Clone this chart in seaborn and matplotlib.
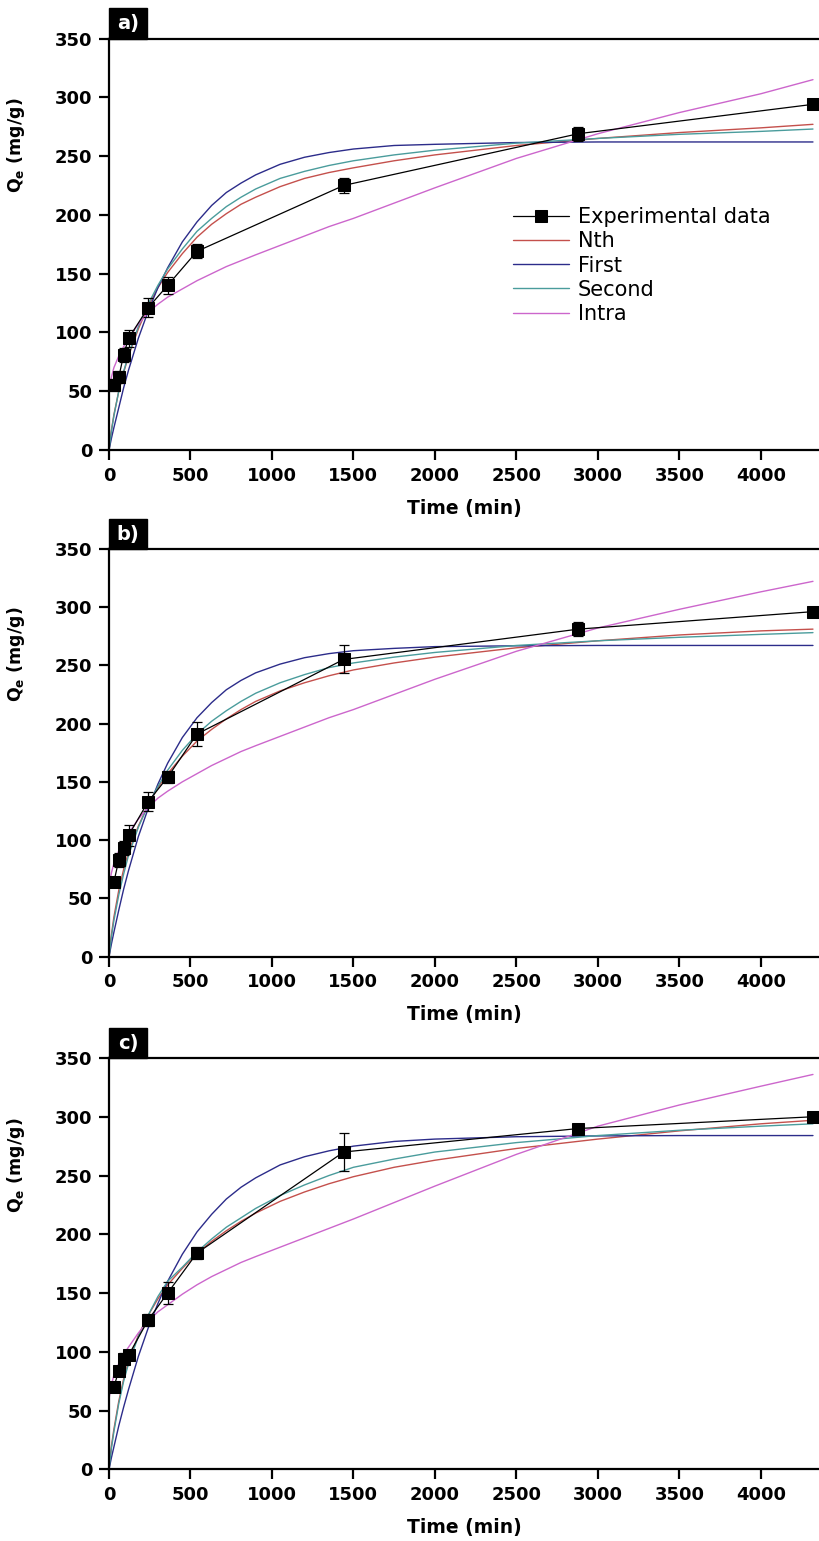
import numpy as np
import pandas as pd
import matplotlib
matplotlib.use("Agg")
import matplotlib.pyplot as plt
import seaborn as sns
from matplotlib.patches import Rectangle

# ---------------- data ----------------
time_exp = [30, 60, 90, 120, 240, 360, 540, 1440, 2880, 4320]
qe_a = [55, 62, 81, 95, 121, 140, 169, 225, 269, 294]
err_a = [5, 5, 6, 7, 8, 7, 6, 6, 6, 3]
qe_b = [64, 83, 93, 104, 133, 154, 191, 255, 281, 296]
err_b = [4, 6, 6, 9, 8, 5, 10, 12, 6, 2]
qe_c = [70, 84, 94, 97, 127, 150, 184, 270, 290, 300]
err_c = [3, 4, 5, 4, 5, 9, 5, 16, 2, 2]

time_fit = [0, 15, 30, 60, 90, 120, 180, 240, 300, 360, 450, 540, 630, 720, 810,
            900, 1050, 1200, 1350, 1500, 1750, 2000, 2500, 3000, 3500, 4000, 4320]

nth_a = [0, 17, 30, 50, 66, 80, 103, 122, 138, 151, 167, 181, 192, 201, 209,
         215, 224, 231, 236, 240, 246, 251, 259, 265, 270, 274, 277]
first_a = [0, 10, 19, 36, 53, 68, 95, 118, 138, 155, 177, 194, 208, 219, 227,
           234, 243, 249, 253, 256, 259, 260, 261.5, 262, 262, 262, 262]
second_a = [0, 16, 29, 50, 67, 81, 105, 124, 140, 154, 171, 186, 197, 207, 215,
            222, 231, 237, 242, 246, 251, 255, 261, 265, 268.5, 271, 273]
intra_a = [50, 62, 70, 80, 88, 95, 107, 117, 124, 130, 137, 144, 150, 156, 161,
           166, 174, 182, 190, 197, 210, 223, 248, 269, 287, 303, 315]

nth_b = [0, 19, 34, 57, 75, 90, 112, 130, 145, 157, 172, 185, 195, 204, 212,
         219, 228, 235, 241, 246, 252, 257, 265, 271, 276, 279.5, 281]
first_b = [0, 11, 21, 40, 58, 74, 103, 127, 148, 166, 188, 205, 218, 229, 237,
           243.5, 251, 256.5, 260, 262.5, 264.5, 266, 266.7, 267, 267, 267, 267]
second_b = [0, 17, 31, 53, 71, 87, 111, 130, 146, 160, 177, 191, 202, 211, 219,
            226, 235, 242, 248, 252, 257, 261, 267, 271, 274, 276.5, 278]
intra_b = [60, 72, 80, 91, 99, 106, 118, 128, 136, 142, 150, 157, 164, 170, 176,
           181, 189, 197, 205, 212, 225, 238, 262, 282, 298, 313, 322]

nth_c = [0, 20, 34, 58, 77, 92, 114, 131, 145, 157, 171, 184, 194, 203, 211,
         218, 228, 236, 243, 249, 257, 263, 273, 281, 288, 294, 297]
first_c = [0, 10, 19, 37, 53, 68, 96, 120, 141, 160, 183, 202, 217, 230, 240,
           248, 259, 266, 271, 275, 279, 281, 283, 283.7, 284, 284, 284]
second_c = [0, 18, 32, 56, 75, 90, 113, 131, 147, 160, 172, 185, 196, 206, 214,
            222, 233, 242, 250, 257, 264, 270, 278, 284, 288.5, 292, 294]
intra_c = [60, 72, 80, 90, 98, 104, 116, 126, 134, 140, 149, 157, 164, 170, 176,
           181, 189, 197, 205, 213, 227, 241, 268, 292, 310, 326, 336]

panel_labels = ["a)", "b)", "c)"]
series_names = ["Experimental data", "Nth", "First", "Second", "Intra"]
x_ticks = [0, 500, 1000, 1500, 2000, 2500, 3000, 3500, 4000]
y_ticks = [0, 50, 100, 150, 200, 250, 300, 350]

panels = [
    (qe_a, err_a, nth_a, first_a, second_a, intra_a),
    (qe_b, err_b, nth_b, first_b, second_b, intra_b),
    (qe_c, err_c, nth_c, first_c, second_c, intra_c),
]

# ---------------- style ----------------
sns.set_style("ticks")
plt.rcParams["font.family"] = ["DejaVu Sans"]
plt.rcParams["mathtext.fontset"] = "custom"
plt.rcParams["mathtext.rm"] = "DejaVu Sans:bold"
plt.rcParams["mathtext.it"] = "DejaVu Sans:bold"
plt.rcParams["mathtext.bf"] = "DejaVu Sans:bold"
for key in ["text.color", "axes.labelcolor", "xtick.color", "ytick.color",
            "axes.edgecolor"]:
    plt.rcParams[key] = "black"

colors = {"Nth": "#c4504c", "First": "#2c2c8a", "Second": "#4a9c9c", "Intra": "#cc66cc"}

fig = plt.figure(figsize=(8.19, 15.41), dpi=100)
left = 109 / 819
width = 1 - left
boxes = [
    (1 - 450 / 1541, 411.5 / 1541),
    (1 - 956.7 / 1541, 408 / 1541),
    (1 - 1469.3 / 1541, 411.3 / 1541),
]

for i, (qe, err, nth, first, second, intra) in enumerate(panels):
    b, h = boxes[i]
    ax = fig.add_axes([left, b, width, h])

    for name, vals in zip(["Nth", "First", "Second", "Intra"], [nth, first, second, intra]):
        sns.lineplot(x=time_fit, y=vals, ax=ax, color=colors[name], linewidth=1.0,
                     label=name, sort=False)

    ax.errorbar(time_exp, qe, yerr=err, fmt="none", ecolor="black",
                elinewidth=0.9, capsize=3.5, capthick=0.9, zorder=4)
    sns.lineplot(x=time_exp, y=qe, ax=ax, color="black", linewidth=0.9,
                 marker="s", markersize=9, markeredgecolor="black",
                 markerfacecolor="black", label="Experimental data", zorder=5)

    ax.set_xlim(0, 4357)
    ax.set_ylim(0, 350)
    ax.set_xticks(x_ticks)
    ax.set_yticks(y_ticks)
    ax.tick_params(axis="both", direction="out", length=7, width=1.6,
                   labelsize=13, pad=5, colors="black")
    for lab in ax.get_xticklabels() + ax.get_yticklabels():
        lab.set_fontweight("bold")

    for side in ["left", "bottom", "top"]:
        ax.spines[side].set_linewidth(1.6)
        ax.spines[side].set_color("black")
    ax.spines["right"].set_visible(False)

    ax.set_xlabel("Time (min)", fontsize=13.5, fontweight="bold", labelpad=10,
                  color="black")
    ax.set_ylabel("Q$_{e}$ (mg/g)", fontsize=12.5, fontweight="bold", color="black")
    ax.yaxis.set_label_coords(-0.115, 0.74)

    # panel tag box
    ax.add_patch(Rectangle((0, 1), 0.0535, 0.073, transform=ax.transAxes,
                           facecolor="black", edgecolor="black", clip_on=False, zorder=10))
    ax.text(0.0267, 1.036, panel_labels[i], transform=ax.transAxes, color="white",
            fontsize=14, fontweight="bold", ha="center", va="center", zorder=11)

    handles, labels = ax.get_legend_handles_labels()
    if i == 0:
        hmap = dict(zip(labels, handles))
        leg = ax.legend([hmap[n] for n in series_names], series_names,
                        loc="upper left", bbox_to_anchor=(0.569, 0.59), frameon=False,
                        borderpad=0, borderaxespad=0, handlelength=2.7,
                        handletextpad=0.4, labelspacing=0.2,
                        prop={"size": 15, "weight": "normal"})
        for t in leg.get_texts():
            t.set_color("black")
    else:
        leg = ax.get_legend()
        if leg is not None:
            leg.remove()

fig.savefig("out.png", dpi=100, facecolor="white")
